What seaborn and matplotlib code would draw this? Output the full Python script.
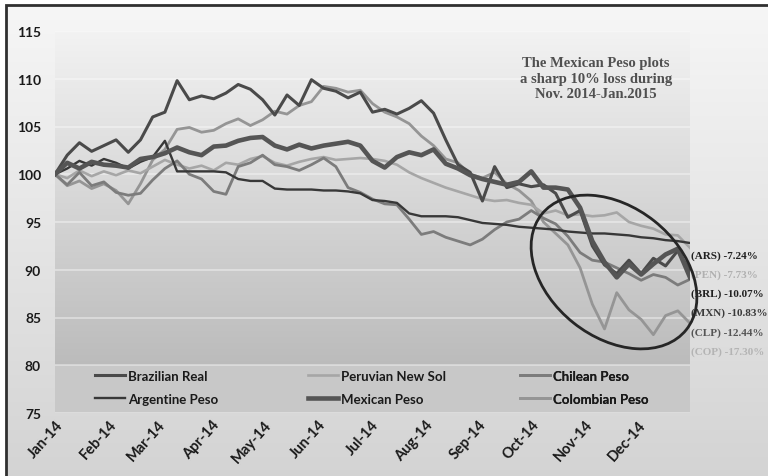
import numpy as np
import pandas as pd
import matplotlib
matplotlib.use("Agg")
import matplotlib.pyplot as plt
import matplotlib.dates as mdates
from matplotlib.patches import Ellipse, Rectangle
import seaborn as sns

# ---------------- data (weekly readings, index 100 = 1 Jan 2014) ----------------
dates = pd.date_range("2014-01-01", periods=53, freq="7D")

brl = [100.0, 102.0, 103.3, 102.4, 103.0, 103.6, 102.3, 103.6, 106.0, 106.5,
       109.8, 107.8, 108.2, 107.9, 108.5, 109.4, 108.9, 107.8, 106.2, 108.3,
       107.2, 109.9, 109.0, 108.7, 108.0, 108.6, 106.5, 106.8, 106.3, 106.9,
       107.7, 106.4, 103.6, 101.0, 100.2, 97.2, 100.8, 98.6, 99.0, 98.7,
       98.9, 98.0, 95.5, 96.2, 92.5, 90.5, 89.6, 91.0, 89.6, 91.2,
       90.4, 92.0, 89.9]
ars = [100.0, 100.6, 101.4, 100.9, 101.6, 101.2, 100.6, 101.3, 101.8, 103.5,
       100.3, 100.3, 100.3, 100.3, 100.2, 99.5, 99.3, 99.3, 98.5, 98.4,
       98.4, 98.4, 98.3, 98.3, 98.2, 98.0, 97.3, 97.2, 97.0, 95.9,
       95.6, 95.6, 95.6, 95.5, 95.2, 94.9, 94.8, 94.7, 94.5, 94.4,
       94.3, 94.2, 94.0, 93.9, 93.8, 93.8, 93.7, 93.6, 93.4, 93.3,
       93.1, 93.0, 92.8]
pen = [100.0, 99.6, 100.4, 99.8, 100.3, 99.9, 100.4, 100.1, 100.8, 101.5,
       101.0, 100.6, 100.9, 100.4, 101.2, 101.0, 101.6, 101.9, 101.2, 100.9,
       101.3, 101.6, 101.8, 101.5, 101.6, 101.7, 101.6, 101.4, 101.0, 100.2,
       99.6, 99.1, 98.6, 98.2, 97.8, 97.4, 97.2, 97.3, 97.0, 96.8,
       95.9, 96.2, 95.7, 95.8, 95.6, 95.7, 96.0, 95.0, 94.6, 94.3,
       93.7, 93.6, 92.3]
mxn = [100.0, 101.2, 100.6, 101.3, 101.0, 100.9, 100.7, 101.6, 101.8, 102.2,
       102.8, 102.3, 102.0, 102.9, 103.0, 103.5, 103.8, 103.9, 103.0, 102.6,
       103.1, 102.7, 103.0, 103.2, 103.4, 103.0, 101.4, 100.7, 101.8, 102.3,
       102.0, 102.6, 101.1, 100.6, 99.9, 99.5, 99.2, 98.9, 99.2, 100.3,
       98.6, 98.6, 98.4, 96.5, 93.0, 90.8, 89.2, 90.6, 89.5, 90.6,
       91.6, 92.2, 89.2]
clp = [100.0, 98.9, 100.2, 98.8, 99.2, 98.1, 97.8, 98.0, 99.4, 100.6,
       101.4, 100.0, 99.5, 98.2, 97.9, 100.8, 101.2, 102.0, 101.0, 100.8,
       100.4, 101.0, 101.7, 100.8, 98.6, 98.1, 97.4, 96.9, 96.8, 95.3,
       93.7, 94.0, 93.4, 93.0, 92.6, 93.2, 94.2, 95.0, 95.3, 96.2,
       95.4, 94.8, 93.5, 91.8, 91.0, 90.8, 90.2, 89.6, 88.9, 89.5,
       89.2, 88.4, 89.0]
cop = [100.0, 98.8, 99.3, 98.5, 99.0, 98.3, 96.9, 99.0, 101.5, 102.6,
       104.7, 104.9, 104.4, 104.6, 105.3, 105.8, 105.1, 105.7, 106.6, 106.3,
       107.2, 107.6, 109.2, 109.0, 108.6, 108.8, 107.4, 106.5, 106.0, 105.3,
       104.0, 103.0, 101.6, 101.2, 100.0, 99.6, 100.2, 99.0, 98.3, 97.2,
       95.0, 93.8, 92.6, 90.2, 86.4, 83.8, 87.6, 85.8, 84.8, 83.2,
       85.2, 85.7, 84.4]

series_names = ["Colombian Peso", "Peruvian New Sol", "Chilean Peso",
                "Argentine Peso", "Brazilian Real", "Mexican Peso"]
series_values = [cop, pen, clp, ars, brl, mxn]

legend_columns = [["Brazilian Real", "Argentine Peso"],
                  ["Peruvian New Sol", "Mexican Peso"],
                  ["Chilean Peso", "Colombian Peso"]]

end_labels = ["(ARS) -7.24%", "(PEN) -7.73%", "(BRL) -10.07%",
              "(MXN) -10.83%", "(CLP) -12.44%", "(COP) -17.30%"]
end_label_colors = ["#202020", "#b0b0b0", "#202020", "#3a3a3a", "#555555", "#b4b4b4"]

note_text = "The Mexican Peso plots\na sharp 10% loss during\nNov. 2014-Jan.2015"

y_ticks = [75, 80, 85, 90, 95, 100, 105, 110, 115]

# ---------------- styling ----------------
palette = {"Brazilian Real": "#4a4a4a", "Argentine Peso": "#383838",
           "Peruvian New Sol": "#a6a6a6", "Mexican Peso": "#555555",
           "Chilean Peso": "#7c7c7c", "Colombian Peso": "#959595"}
sizes = {"Brazilian Real": 2.2, "Argentine Peso": 1.7, "Peruvian New Sol": 1.9,
         "Mexican Peso": 3.3, "Chilean Peso": 2.0, "Colombian Peso": 2.0}

plt.rcParams["font.family"] = ["Lato", "DejaVu Sans"]

df = pd.concat([pd.DataFrame({"date": dates, "value": v, "currency": n})
                for n, v in zip(series_names, series_values)], ignore_index=True)

W, H = 768, 477
fig = plt.figure(figsize=(W / 100, H / 100), dpi=100)
fig.patch.set_facecolor("white")

# figure background gradient inside frame
bg = fig.add_axes([6 / W, 0, 1 - 6 / W, 1 - 6 / H], zorder=-5)
g = np.linspace(0.965, 0.83, 256)
bg.imshow(np.stack([g, g, g], axis=-1)[:, None, :], aspect="auto", extent=[0, 1, 0, 1])
bg.set_axis_off()

ax_l, ax_r, ax_t, ax_b = 55, 690, 32, 414
ax = fig.add_axes([ax_l / W, 1 - ax_b / H, (ax_r - ax_l) / W, (ax_b - ax_t) / H])
ax.set_facecolor("none")

sns.lineplot(data=df, x="date", y="value", hue="currency", size="currency",
             hue_order=series_names, size_order=series_names,
             palette=palette, sizes=sizes, legend=False, ax=ax, zorder=3)

x0 = mdates.date2num(pd.Timestamp("2014-01-01"))
x1 = mdates.date2num(pd.Timestamp("2014-12-31"))
vals = np.linspace(115, 75, 400)
shade = np.where(vals >= 80, 0.95 - (115 - vals) / 35 * (0.95 - 0.735), 0.785)
ax.imshow(np.stack([shade, shade, shade], axis=-1)[:, None, :],
          aspect="auto", extent=[x0, x1, 75, 115], zorder=0)
ax.set_xlim(x0, x1)
ax.set_ylim(75, 115)

ax.set_yticks(y_ticks)
ax.yaxis.grid(True, color="white", alpha=0.45, lw=1.2, zorder=1)
ax.xaxis.grid(False)
for s in ax.spines.values():
    s.set_visible(False)
ax.xaxis.set_major_locator(mdates.MonthLocator())
ax.xaxis.set_major_formatter(mdates.DateFormatter("%b-%y"))
ax.tick_params(axis="both", length=0, colors="#1a1a1a")
ax.tick_params(axis="y", pad=10, labelsize=10)
ax.tick_params(axis="x", pad=3, labelsize=10.5)
for lab in ax.get_yticklabels():
    lab.set_fontweight("bold")
for lab in ax.get_xticklabels():
    lab.set_fontweight("bold")
    lab.set_rotation(48)
    lab.set_ha("right")
    lab.set_rotation_mode("anchor")
ax.set_xlabel("")
ax.set_ylabel("")

# legends (one per column, from the plotted lines)
lines = {n: ln for n, ln in zip(series_names, ax.get_lines())}
col_x = [(95 - ax_l) / (ax_r - ax_l), (308 - ax_l) / (ax_r - ax_l), (520 - ax_l) / (ax_r - ax_l)]
yc = (ax_b - 388.5) / (ax_b - ax_t)
for cx, names in zip(col_x, legend_columns):
    leg = ax.legend([lines[n] for n in names], names, loc="center left",
                    bbox_to_anchor=(cx, yc), frameon=False, borderpad=0,
                    borderaxespad=0, handlelength=2.3, handletextpad=0.2,
                    labelspacing=0.85, prop={"weight": "bold", "size": 9.5})
    for t in leg.get_texts():
        t.set_color("#1a1a1a")
    ax.add_artist(leg)

# annotation and ellipse
fig.text(596 / W, 1 - 79 / H, note_text, ha="center", va="center",
         fontsize=10.5, fontweight="bold", family=["Liberation Serif", "DejaVu Serif"],
         color="#505050", linespacing=1.3)

ell = Ellipse((6.14, (H - 273) / 100), 1.85, 1.30, angle=-38.6, fill=False,
              ec="#262626", lw=2.0, transform=fig.dpi_scale_trans, zorder=6)
fig.add_artist(ell)

for k, (txt, col) in enumerate(zip(end_labels, end_label_colors)):
    fig.text(691 / W, 1 - (256 + 19.2 * k) / H, txt, ha="left", va="center",
             fontsize=8, fontweight="bold", family=["Liberation Serif", "DejaVu Serif"],
             color=col)

frame = Rectangle((6 / W, -0.05), 1.2, 1 - 6 / H + 0.05, transform=fig.transFigure,
                  fill=False, ec="#303030", lw=2.0)
fig.add_artist(frame)

fig.savefig("out.png", dpi=100)
